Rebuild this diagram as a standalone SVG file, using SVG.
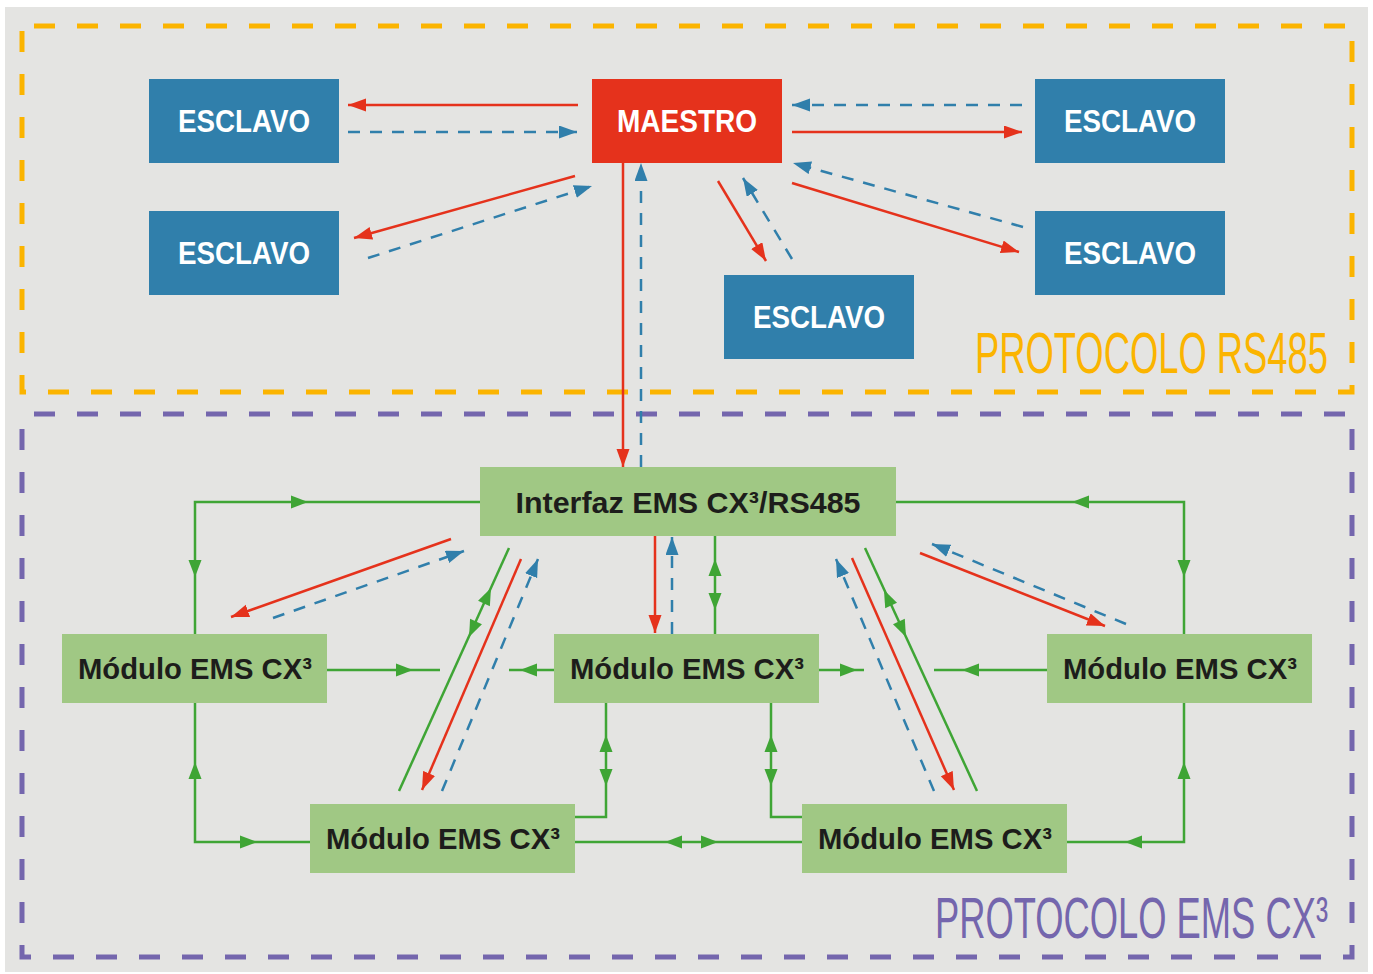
<svg xmlns="http://www.w3.org/2000/svg" xmlns:xlink="http://www.w3.org/1999/xlink" width="1373" height="974" viewBox="0 0 1373 974">
<style>
.bg{fill:#e4e4e2}
.zone-o{fill:none;stroke:#fbb400;stroke-width:5;stroke-dasharray:21 22;stroke-dashoffset:-12}
.zone-p{fill:none;stroke:#7466ad;stroke-width:5;stroke-dasharray:21 22;stroke-dashoffset:-12}
.blue{fill:#307fab}
.red{fill:#e5321c}
.grn{fill:#a0c884}
.wt{font-family:"Liberation Sans",Arial,sans-serif;font-weight:bold;font-size:31px;fill:#ffffff;text-anchor:middle}
.dk{font-family:"Liberation Sans",Arial,sans-serif;font-weight:bold;font-size:30px;fill:#1d1d1b;text-anchor:middle}
.lr{fill:none;stroke:#e5321c;stroke-width:2.5}
.lb{fill:none;stroke:#307fab;stroke-width:2.5;stroke-dasharray:12 10}
.lg{fill:none;stroke:#3fa535;stroke-width:2.5}
.gh{fill:#3fa535}
.zt{font-family:"Liberation Sans",Arial,sans-serif;font-size:36px;text-anchor:end}
</style>
<defs>
<marker id="ar" markerUnits="userSpaceOnUse" markerWidth="20" markerHeight="14" refX="18" refY="6.5" orient="auto"><path d="M0,0 L18,6.5 L0,13 Z" fill="#e5321c"/></marker>
<marker id="ab" markerUnits="userSpaceOnUse" markerWidth="20" markerHeight="14" refX="18" refY="6.5" orient="auto"><path d="M0,0 L18,6.5 L0,13 Z" fill="#307fab"/></marker>
<path id="gh" d="M0,0 L-17,-6.5 L-17,6.5 Z"/>
</defs>
<rect x="0" y="0" width="1373" height="974" fill="#ffffff"/>
<rect class="bg" x="5" y="7" width="1363" height="965"/>
<rect class="zone-o" x="22" y="26" width="1330" height="366"/>
<rect class="zone-p" x="22" y="414" width="1330" height="543"/>
<text class="zt" transform="translate(1328,373) scale(1,1.6)" x="0" y="0" fill="#fbb400" textLength="353" lengthAdjust="spacingAndGlyphs">PROTOCOLO RS485</text>
<text class="zt" transform="translate(1328,938) scale(1,1.6)" x="0" y="0" fill="#7466ad" textLength="393" lengthAdjust="spacingAndGlyphs">PROTOCOLO EMS CX³</text>

<g id="connectors">
<path class="lr" d="M578,105 L348,105" marker-end="url(#ar)"/>
<path class="lb" d="M348,132 L577,132" marker-end="url(#ab)"/>
<path class="lr" d="M575,176 L354,238" marker-end="url(#ar)"/>
<path class="lb" d="M368,258 L592,186" marker-end="url(#ab)"/>
<path class="lb" d="M1022,105 L792,105" marker-end="url(#ab)"/>
<path class="lr" d="M792,132 L1022,132" marker-end="url(#ar)"/>
<path class="lr" d="M792,183 L1019,252" marker-end="url(#ar)"/>
<path class="lb" d="M1023,227 L793,163" marker-end="url(#ab)"/>
<path class="lr" d="M718,181 L766,261" marker-end="url(#ar)"/>
<path class="lb" d="M792,259 L743,178" marker-end="url(#ab)"/>
<path class="lr" d="M623,163 L623,467" marker-end="url(#ar)"/>
<path class="lb" d="M641,467 L641,163" marker-end="url(#ab)"/>

<path class="lr" d="M655,536 L655,633" marker-end="url(#ar)"/>
<path class="lb" d="M672,634 L672,537" marker-end="url(#ab)"/>
<path class="lr" d="M451,539 L231,617" marker-end="url(#ar)"/>
<path class="lb" d="M273,618 L464,551" marker-end="url(#ab)"/>
<path class="lr" d="M521,559 L422,790" marker-end="url(#ar)"/>
<path class="lb" d="M442,791 L538,559" marker-end="url(#ab)"/>
<path class="lr" d="M852,558 L954,790" marker-end="url(#ar)"/>
<path class="lb" d="M934,791 L836,559" marker-end="url(#ab)"/>
<path class="lr" d="M920,553 L1105,626" marker-end="url(#ar)"/>
<path class="lb" d="M1126,624 L932,544" marker-end="url(#ab)"/>

<path class="lg" d="M715,536 L715,634"/>
<use class="gh" xlink:href="#gh" transform="translate(715,559) rotate(-90)"/>
<use class="gh" xlink:href="#gh" transform="translate(715,610) rotate(90)"/>
<path class="lg" d="M509,548 L399,791"/>
<use class="gh" xlink:href="#gh" transform="translate(491,588) rotate(-65.6)"/>
<use class="gh" xlink:href="#gh" transform="translate(469,637) rotate(114.4)"/>
<path class="lg" d="M865,548 L977,791"/>
<use class="gh" xlink:href="#gh" transform="translate(884,590) rotate(-114.7)"/>
<use class="gh" xlink:href="#gh" transform="translate(906,637) rotate(65.3)"/>
<path class="lg" d="M480,502 H195 V634"/>
<use class="gh" xlink:href="#gh" transform="translate(308,502)"/>
<use class="gh" xlink:href="#gh" transform="translate(195,577) rotate(90)"/>
<path class="lg" d="M896,502 H1184 V634"/>
<use class="gh" xlink:href="#gh" transform="translate(1072,502) rotate(180)"/>
<use class="gh" xlink:href="#gh" transform="translate(1184,577) rotate(90)"/>
<path class="lg" d="M327,670 H440"/>
<use class="gh" xlink:href="#gh" transform="translate(413,670)"/>
<path class="lg" d="M554,670 H509"/>
<use class="gh" xlink:href="#gh" transform="translate(520,670) rotate(180)"/>
<path class="lg" d="M819,670 H864"/>
<use class="gh" xlink:href="#gh" transform="translate(857,670)"/>
<path class="lg" d="M1047,670 H934"/>
<use class="gh" xlink:href="#gh" transform="translate(962,670) rotate(180)"/>
<path class="lg" d="M195,703 V842 H310"/>
<use class="gh" xlink:href="#gh" transform="translate(195,762) rotate(-90)"/>
<use class="gh" xlink:href="#gh" transform="translate(257,842)"/>
<path class="lg" d="M575,817 H606 V703"/>
<use class="gh" xlink:href="#gh" transform="translate(606,735) rotate(-90)"/>
<use class="gh" xlink:href="#gh" transform="translate(606,786) rotate(90)"/>
<path class="lg" d="M575,842 H802"/>
<use class="gh" xlink:href="#gh" transform="translate(665,842) rotate(180)"/>
<use class="gh" xlink:href="#gh" transform="translate(718,842)"/>
<path class="lg" d="M771,703 V817 H802"/>
<use class="gh" xlink:href="#gh" transform="translate(771,735) rotate(-90)"/>
<use class="gh" xlink:href="#gh" transform="translate(771,786) rotate(90)"/>
<path class="lg" d="M1184,703 V842 H1067"/>
<use class="gh" xlink:href="#gh" transform="translate(1184,762) rotate(-90)"/>
<use class="gh" xlink:href="#gh" transform="translate(1125,842) rotate(180)"/>
</g>

<g id="maestro"><rect class="red" x="592" y="79" width="190" height="84"/><text class="wt" x="687" y="132" textLength="140" lengthAdjust="spacingAndGlyphs">MAESTRO</text></g>
<g id="esclavo-tl"><rect class="blue" x="149" y="79" width="190" height="84"/><text class="wt" x="244" y="132" textLength="132" lengthAdjust="spacingAndGlyphs">ESCLAVO</text></g>
<g id="esclavo-ml"><rect class="blue" x="149" y="211" width="190" height="84"/><text class="wt" x="244" y="264" textLength="132" lengthAdjust="spacingAndGlyphs">ESCLAVO</text></g>
<g id="esclavo-tr"><rect class="blue" x="1035" y="79" width="190" height="84"/><text class="wt" x="1130" y="132" textLength="132" lengthAdjust="spacingAndGlyphs">ESCLAVO</text></g>
<g id="esclavo-mr"><rect class="blue" x="1035" y="211" width="190" height="84"/><text class="wt" x="1130" y="264" textLength="132" lengthAdjust="spacingAndGlyphs">ESCLAVO</text></g>
<g id="esclavo-b"><rect class="blue" x="724" y="275" width="190" height="84"/><text class="wt" x="819" y="328" textLength="132" lengthAdjust="spacingAndGlyphs">ESCLAVO</text></g>

<g id="interfaz"><rect class="grn" x="480" y="467" width="416" height="69"/><text class="dk" x="688" y="513" textLength="345" lengthAdjust="spacingAndGlyphs">Interfaz EMS CX³/RS485</text></g>
<g id="modulo-l"><rect class="grn" x="62" y="634" width="265" height="69"/><text class="dk" x="195" y="679" textLength="234" lengthAdjust="spacingAndGlyphs">Módulo EMS CX³</text></g>
<g id="modulo-m"><rect class="grn" x="554" y="634" width="265" height="69"/><text class="dk" x="687" y="679" textLength="234" lengthAdjust="spacingAndGlyphs">Módulo EMS CX³</text></g>
<g id="modulo-r"><rect class="grn" x="1047" y="634" width="265" height="69"/><text class="dk" x="1180" y="679" textLength="234" lengthAdjust="spacingAndGlyphs">Módulo EMS CX³</text></g>
<g id="modulo-bl"><rect class="grn" x="310" y="804" width="265" height="69"/><text class="dk" x="443" y="849" textLength="234" lengthAdjust="spacingAndGlyphs">Módulo EMS CX³</text></g>
<g id="modulo-br"><rect class="grn" x="802" y="804" width="265" height="69"/><text class="dk" x="935" y="849" textLength="234" lengthAdjust="spacingAndGlyphs">Módulo EMS CX³</text></g>
</svg>
